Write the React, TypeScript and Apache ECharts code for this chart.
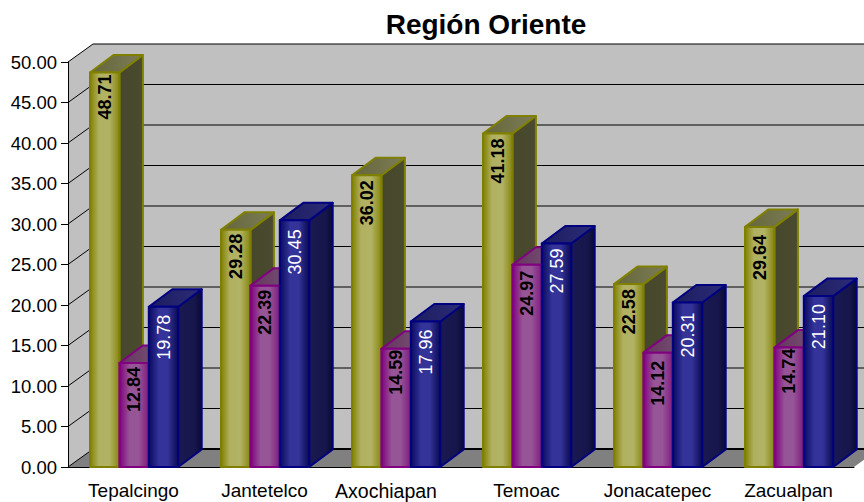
import React, { useEffect, useRef } from "react";
import * as echarts from "echarts";

const categories = ["Tepalcingo", "Jantetelco", "Axochiapan", "Temoac", "Jonacatepec", "Zacualpan"];
const seriesA = [48.71, 29.28, 36.02, 41.18, 22.58, 29.64];
const seriesB = [12.84, 22.39, 14.59, 24.97, 14.12, 14.74];
const seriesC = [19.78, 30.45, 17.96, 27.59, 20.31, 21.1];
const yTicks = [0, 5, 10, 15, 20, 25, 30, 35, 40, 45, 50];

// distance of each rotated value label from the top of its bar, per series
const labelInsets = [
  [2, 4, 5, 5, 5, 8],
  [4, 4, 1, 6, 8, 1],
  [8, 9, 8, 5, 10, 8],
];

const DX = 25;
const DY = -18;
const BAR_DX = 23.5;
const BAR_DY = -17.5;
const BAR_W = 29.4;
const GROUP_SHIFT = -43.5;
const FONT = "'Liberation Sans', Arial, sans-serif";

const grad = (stops: [number, string][]) =>
  new echarts.graphic.LinearGradient(0, 0, 1, 0, stops.map(([offset, color]) => ({ offset, color })));

const palettes = [
  {
    stroke: "#808000",
    text: "#000",
    weight: "bold",
    front: [[0, "#808000"], [0.3, "#B0B060"], [0.65, "#B3B366"], [1, "#868610"]] as [number, string][],
    top: [[0, "#66663A"], [1, "#7C7C58"]] as [number, string][],
    side: [[0, "#47472B"], [1, "#4A4A30"]] as [number, string][],
  },
  {
    stroke: "#800080",
    text: "#000",
    weight: "bold",
    front: [[0, "#800080"], [0.35, "#965596"], [0.65, "#965596"], [1, "#801A80"]] as [number, string][],
    top: [[0, "#66335F"], [1, "#7C5C78"]] as [number, string][],
    side: [[0, "#47274B"], [1, "#4A2C4C"]] as [number, string][],
  },
  {
    stroke: "#000080",
    text: "#fff",
    weight: "normal",
    front: [[0, "#0A0A60"], [0.35, "#333399"], [0.65, "#333399"], [1, "#0A0A50"]] as [number, string][],
    top: [[0, "#1C1C60"], [1, "#2C2C78"]] as [number, string][],
    side: [[0, "#1A1A50"], [0.7, "#16164D"], [1, "#0A0A30"]] as [number, string][],
  },
];

const barSeries = (values: number[], index: number) => ({
  type: "custom",
  coordinateSystem: "cartesian2d",
  silent: true,
  clip: false,
  encode: { x: 0, y: 1 },
  data: values.map((v, i) => [i, v]),
  z: 3 + index,
  renderItem: (_p: any, api: any) => {
    const cat = api.value(0);
    const value = api.value(1);
    const top = api.coord([cat, value]);
    const base = api.coord([cat, 0]);
    const left = top[0] + GROUP_SHIFT + index * BAR_W;
    const right = left + BAR_W;
    const pal = palettes[index];
    const common = { stroke: pal.stroke, lineWidth: 2, lineJoin: "round" };
    return {
      type: "group",
      children: [
        {
          type: "polygon",
          shape: { points: [[right, top[1]], [right + BAR_DX, top[1] + BAR_DY], [right + BAR_DX, base[1] + BAR_DY], [right, base[1]]] },
          style: { ...common, fill: grad(pal.side) },
        },
        {
          type: "polygon",
          shape: { points: [[left, top[1]], [left + BAR_DX, top[1] + BAR_DY], [right + BAR_DX, top[1] + BAR_DY], [right, top[1]]] },
          style: { ...common, fill: grad(pal.top) },
        },
        {
          type: "rect",
          shape: { x: left, y: top[1], width: BAR_W, height: base[1] - top[1] },
          style: { ...common, fill: grad(pal.front) },
        },
        {
          type: "text",
          x: left + BAR_W / 2,
          y: top[1] + labelInsets[index][cat],
          rotation: Math.PI / 2,
          style: {
            text: value.toFixed(2),
            fill: pal.text,
            font: `${pal.weight} 18px ${FONT}`,
            align: "right",
            verticalAlign: "middle",
          },
        },
      ],
    };
  },
});

const wallSeries = {
  type: "custom",
  coordinateSystem: "cartesian2d",
  silent: true,
  clip: false,
  encode: { x: 0, y: 1 },
  data: [[0, 0]],
  z: 1,
  renderItem: (params: any, api: any) => {
    const cs = params.coordSys;
    const x0 = cs.x;
    const x1 = cs.x + cs.width;
    const yOf = (v: number) => api.coord([0, v])[1];
    const y0 = yOf(0);
    const yMax = yOf(50);
    const edge = x1 + DX;
    const lines = yTicks.slice(1).flatMap((v) => {
      const y = yOf(v);
      return [
        { type: "line", shape: { x1: x0, y1: y, x2: x0 + DX, y2: y + DY }, style: { stroke: "#000", lineWidth: 1 } },
        { type: "line", shape: { x1: x0 + DX, y1: y + DY, x2: edge, y2: y + DY }, style: { stroke: "#000", lineWidth: 1 } },
      ];
    });
    return {
      type: "group",
      children: [
        { type: "rect", shape: { x: x0 + DX, y: yMax + DY, width: edge - x0 - DX, height: y0 - yMax }, style: { fill: "#C0C0C0" } },
        { type: "polygon", shape: { points: [[x0, yMax], [x0 + DX, yMax + DY], [x0 + DX, y0 + DY], [x0, y0]] }, style: { fill: "#C0C0C0" } },
        { type: "polygon", shape: { points: [[x0, y0], [x0 + DX, y0 + DY], [edge, y0 + DY], [x1, y0]] }, style: { fill: "#808080" } },
        ...lines,
        { type: "line", shape: { x1: x0, y1: y0, x2: x0 + DX, y2: y0 + DY }, style: { stroke: "#000", lineWidth: 1 } },
        { type: "line", shape: { x1: x0 + DX, y1: y0 + DY, x2: edge, y2: y0 + DY }, style: { stroke: "#000", lineWidth: 2 } },
      ],
    };
  },
};

export default function App() {
  const ref = useRef<HTMLDivElement>(null);
  useEffect(() => {
    const chart = echarts.init(ref.current!, undefined, { renderer: "svg" });
    chart.setOption({
      animation: false,
      backgroundColor: "#fff",
      title: {
        text: "Región Oriente",
        left: 481,
        top: 5,
        textAlign: "center",
        textStyle: { fontFamily: FONT, fontSize: 28, fontWeight: "bold", color: "#000" },
      },
      grid: { left: 68, top: 62, width: 786, height: 405 },
      xAxis: {
        type: "category",
        data: categories,
        z: 2,
        axisLine: { show: true, onZero: false, lineStyle: { color: "#000", width: 1 } },
        axisTick: { show: false },
        axisLabel: {
          color: "#000",
          fontFamily: FONT,
          fontSize: 19,
          margin: 14,
          interval: 0,
          formatter: (v: string) => (v === "Axochiapan" ? `{shifted|${v}}` : v),
          rich: { shifted: { color: "#000", fontFamily: FONT, fontSize: 19.5, padding: [0, 19, 0, 0] } },
        },
      },
      yAxis: {
        type: "value",
        min: 0,
        max: 50,
        interval: 5,
        z: 2,
        splitLine: { show: false },
        axisLine: { show: true, lineStyle: { color: "#000", width: 1 } },
        axisTick: { show: true, length: 7, lineStyle: { color: "#000", width: 1 } },
        axisLabel: { color: "#000", fontFamily: FONT, fontSize: 18.5, margin: 11, formatter: (v: number) => v.toFixed(2) },
      },
      series: [wallSeries, barSeries(seriesA, 0), barSeries(seriesB, 1), barSeries(seriesC, 2)],
    });
    return () => chart.dispose();
  }, []);
  return <div ref={ref} style={{ position: "absolute", left: 0, top: 0, width: 864, height: 502 }} />;
}
